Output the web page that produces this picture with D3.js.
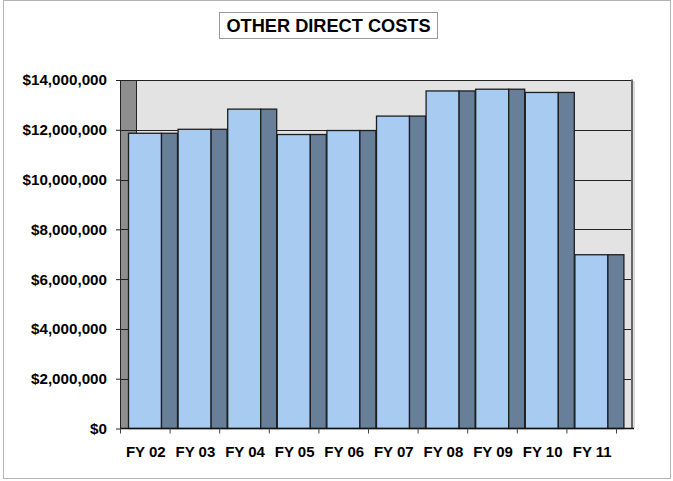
<!DOCTYPE html>
<html>
<head>
<meta charset="utf-8">
<script src="https://cdnjs.cloudflare.com/ajax/libs/d3/7.8.5/d3.min.js"></script>
<style>
  body { margin: 0; background: #fff; }
  svg { display: block; font-family: Arial, "Liberation Sans", sans-serif; }
</style>
</head>
<body>
<div id="chart"></div>
<script>
// values
const categories = ["FY 02", "FY 03", "FY 04", "FY 05", "FY 06", "FY 07", "FY 08", "FY 09", "FY 10", "FY 11"];
const costs = [11860000, 12020000, 12830000, 11810000, 11970000, 12550000, 13560000, 13630000, 13500000, 6980000];
const yTicks = [0, 2000000, 4000000, 6000000, 8000000, 10000000, 12000000, 14000000];
const title = "OTHER DIRECT COSTS";

const width = 673, height = 481;
const margin = { top: 80, right: 41, bottom: 52.5, left: 120 };
const depth = 16; // 3d depth, shifted sideways only

const svg = d3.select("#chart").append("svg")
  .attr("width", width)
  .attr("height", height);

// chart border
svg.append("rect")
  .attr("x", 3.5).attr("y", 0.5)
  .attr("width", 667).attr("height", 478)
  .attr("fill", "#fff")
  .attr("stroke", "#b4b4b4");

const x = d3.scaleBand()
  .domain(categories)
  .range([margin.left, width - margin.right - depth])
  .paddingInner(0).paddingOuter(0);

const y = d3.scaleLinear()
  .domain([0, 14000000])
  .range([height - margin.bottom, margin.top]);

const x0 = x.range()[0], x1 = x.range()[1];

// side wall and back wall
svg.append("rect")
  .attr("x", x0 + depth).attr("y", y(14000000))
  .attr("width", x1 - x0).attr("height", y(0) - y(14000000))
  .attr("fill", "#e3e3e3");

svg.append("rect")
  .attr("x", x0).attr("y", y(14000000))
  .attr("width", depth).attr("height", y(0) - y(14000000))
  .attr("fill", "#8e8e8e");

// gridlines
svg.append("g")
  .selectAll("line")
  .data(yTicks.slice(1))
  .join("line")
  .attr("x1", x0).attr("x2", x1 + depth)
  .attr("y1", d => Math.round(y(d)) + 0.5)
  .attr("y2", d => Math.round(y(d)) + 0.5)
  .attr("stroke", "#222")
  .attr("stroke-width", 1);

// wall edges
svg.append("line")
  .attr("x1", x0 + depth + 0.5).attr("x2", x0 + depth + 0.5)
  .attr("y1", y(14000000)).attr("y2", y(0))
  .attr("stroke", "#222");
svg.append("line")
  .attr("x1", x0 + 0.5).attr("x2", x0 + 0.5)
  .attr("y1", y(14000000)).attr("y2", y(0))
  .attr("stroke", "#222");
svg.append("line")
  .attr("x1", x1 + depth).attr("x2", x1 + depth)
  .attr("y1", y(14000000) - 0.5).attr("y2", y(0))
  .attr("stroke", "#666").attr("stroke-width", 2);
svg.append("line")
  .attr("x1", x1 + depth + 2).attr("x2", x1 + depth + 2)
  .attr("y1", y(14000000) + 1).attr("y2", y(0))
  .attr("stroke", "#dcdcdc").attr("stroke-width", 2);

// bars: front face and side face
const bw = x.bandwidth();
const front = Math.round(bw * 0.66);
const offset = Math.round(bw * 0.16);

const bars = svg.append("g")
  .selectAll("g")
  .data(categories.map((c, i) => ({ cat: c, value: costs[i] })))
  .join("g");

bars.append("rect")
  .attr("x", d => x(d.cat) + offset + 0.5)
  .attr("y", d => y(d.value))
  .attr("width", front)
  .attr("height", d => y(0) - y(d.value))
  .attr("fill", "#a8cbf1")
  .attr("stroke", "#1e1e1e")
  .attr("stroke-width", 1.3);

bars.append("rect")
  .attr("x", d => x(d.cat) + offset + front + 0.5)
  .attr("y", d => y(d.value))
  .attr("width", depth)
  .attr("height", d => y(0) - y(d.value))
  .attr("fill", "#687f99")
  .attr("stroke", "#1e1e1e")
  .attr("stroke-width", 1.3);

// y axis
const yAxis = svg.append("g")
  .attr("transform", "translate(" + x0 + ",0)")
  .call(d3.axisLeft(y)
    .tickValues(yTicks)
    .tickSize(4)
    .tickPadding(9)
    .tickFormat(d3.format("$,.0f")));
yAxis.select(".domain").remove();
yAxis.selectAll("line").attr("stroke", "#222");
yAxis.selectAll("text")
  .attr("fill", "#000")
  .style("font-size", "15.2px")
  .style("font-weight", "bold");

// x axis on the floor
const xAxis = svg.append("g")
  .attr("transform", "translate(0," + y(0) + ")")
  .call(d3.axisBottom(x).tickSize(0).tickPadding(18));
xAxis.select(".domain").remove();
xAxis.selectAll("text")
  .attr("fill", "#000")
  .attr("dx", 1)
  .style("font-size", "15px")
  .style("font-weight", "bold");

svg.append("line")
  .attr("x1", x0).attr("x2", x1 + depth + 2)
  .attr("y1", y(0)).attr("y2", y(0))
  .attr("stroke", "#111").attr("stroke-width", 1.5);

svg.append("g")
  .selectAll("line")
  .data(categories.concat(["end"]))
  .join("line")
  .attr("x1", (d, i) => x0 + i * bw + 0.5)
  .attr("x2", (d, i) => x0 + i * bw + 0.5)
  .attr("y1", y(0))
  .attr("y2", y(0) + 5)
  .attr("stroke", "#444");

// title in a box
const tg = svg.append("g");
tg.append("rect")
  .attr("x", 219.5).attr("y", 12.5)
  .attr("width", 218).attr("height", 26)
  .attr("fill", "#fff")
  .attr("stroke", "#999");
tg.append("text")
  .attr("x", 328.5).attr("y", 32)
  .attr("text-anchor", "middle")
  .style("font-size", "18.2px")
  .style("font-weight", "bold")
  .text(title);
</script>
</body>
</html>
